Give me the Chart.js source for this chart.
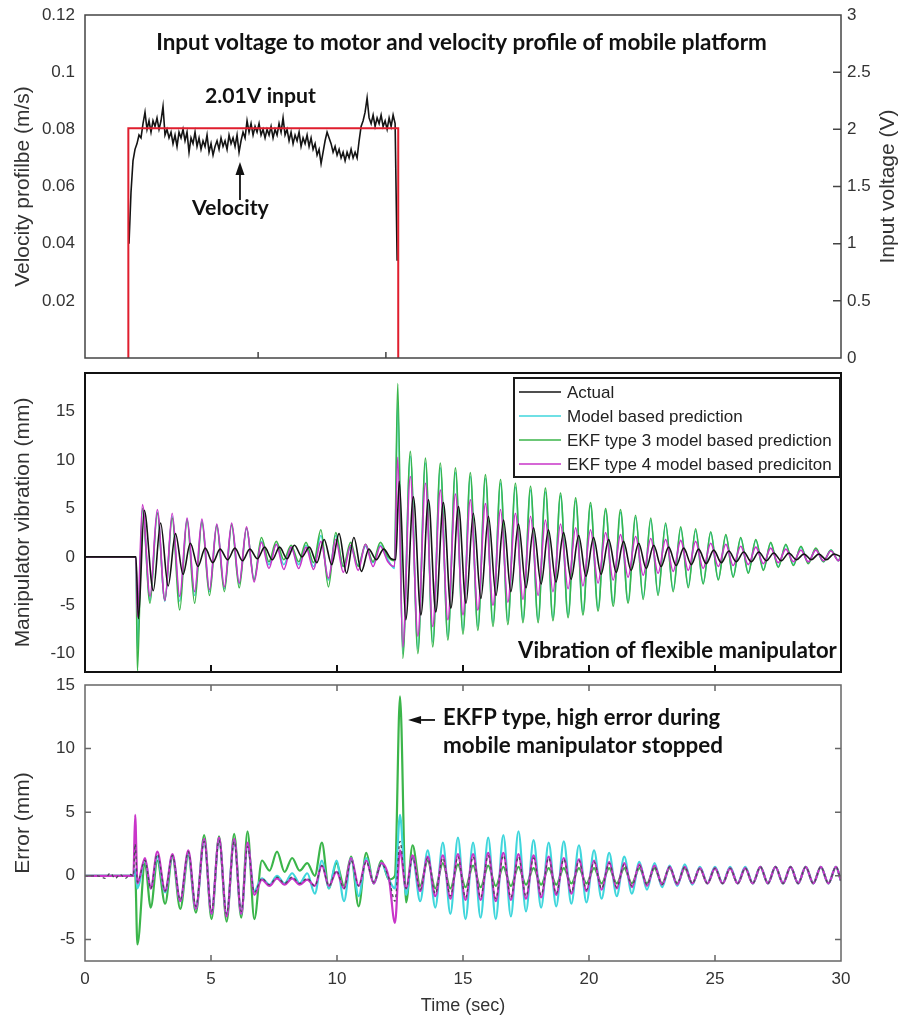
<!DOCTYPE html>
<html><head><meta charset="utf-8">
<script src="https://cdn.jsdelivr.net/npm/chart.js@4.4.1/dist/chart.umd.min.js"></script>
<style>
html,body{margin:0;padding:0;background:#fff;}
#wrap{position:relative;width:900px;height:1019px;overflow:hidden;background:#fff;}
#wrap canvas{position:absolute;left:0;}
</style></head><body>
<div id="wrap">
<canvas id="c1" width="900" height="372" style="top:0px"></canvas>
<canvas id="c2" width="900" height="325" style="top:360px"></canvas>
<canvas id="c3" width="900" height="345" style="top:674px"></canvas>
</div>
<script>
// ================= DATA =================
const timeTicks = [0, 5, 10, 15, 20, 25, 30];
const timeTickLabels = ['0', '5', '10', '15', '20', '25', '30'];
const velTicks = [0.02, 0.04, 0.06, 0.08, 0.10, 0.12];
const velTickLabels = ['0.02', '0.04', '0.06', '0.08', '0.1', '0.12'];
const voltTicks = [0, 0.5, 1, 1.5, 2, 2.5, 3];
const voltTickLabels = ['0', '0.5', '1', '1.5', '2', '2.5', '3'];
const vibTicks = [-10, -5, 0, 5, 10, 15];
const vibTickLabels = ['-10', '-5', '0', '5', '10', '15'];
const errTicks = [-5, 0, 5, 10, 15];
const errTickLabels = ['-5', '0', '5', '10', '15'];
const topPanelXTicks = [6.87, 11.94];
const innerXTicks = [5, 10, 15, 20, 25];
const innerVoltTicks = [0.5, 1, 1.5, 2, 2.5];
const innerErrTicks = [-5, 0, 5, 10];

const seriesNames = ['Actual', 'Model based prediction', 'EKF type 3 model based prediction', 'EKF type 4 model based prediciton'];

// input voltage step (V)
const voltTime  = [1.72, 1.72, 12.43, 12.43];
const voltValue = [0, 2.01, 2.01, 0];

// velocity (m/s), uniformly sampled from velStart every velStep seconds
const velStart = 1.746, velStep = 0.0794;
const velValue = [
 0.040,0.058,0.069,0.073,0.075,0.078,0.077,0.082,0.086,0.080,
 0.083,0.079,0.083,0.081,0.084,0.080,0.083,0.088,0.078,0.080,
 0.077,0.079,0.075,0.078,0.074,0.079,0.077,0.080,0.076,0.079,
 0.072,0.077,0.075,0.079,0.074,0.077,0.073,0.076,0.074,0.078,
 0.072,0.075,0.071,0.074,0.076,0.073,0.077,0.074,0.076,0.073,
 0.078,0.075,0.077,0.074,0.078,0.072,0.076,0.079,0.077,0.083,
 0.079,0.082,0.078,0.081,0.079,0.082,0.078,0.080,0.077,0.080,
 0.078,0.081,0.077,0.080,0.078,0.082,0.079,0.084,0.078,0.080,
 0.076,0.079,0.075,0.078,0.076,0.079,0.074,0.077,0.075,0.078,
 0.074,0.077,0.073,0.075,0.071,0.073,0.068,0.072,0.076,0.079,
 0.077,0.075,0.072,0.074,0.071,0.073,0.070,0.072,0.069,0.072,
 0.070,0.073,0.070,0.072,0.070,0.076,0.081,0.083,0.086,0.091,
 0.084,0.082,0.085,0.081,0.084,0.082,0.085,0.081,0.083,0.080,
 0.084,0.081,0.085,0.082,0.034];

// manipulator vibration (mm): extrema of the three predictions
const predTime = [
 0, 1.95, 2.02,
 2.08, 2.28, 2.58, 2.87, 3.17, 3.46, 3.76, 4.05, 4.35, 4.64,
 4.94, 5.23, 5.53, 5.82, 6.12, 6.41, 6.71, 7.00, 7.30, 7.59,
 7.89, 8.18, 8.48, 8.77, 9.07, 9.36, 9.66, 9.95, 10.25, 10.54,
 10.84, 11.13, 11.43, 11.72, 12.02,
 12.28, 12.41, 12.61,
 12.91, 13.21, 13.51, 13.80, 14.10, 14.40, 14.70, 15.00, 15.29, 15.59,
 15.89, 16.19, 16.49, 16.78, 17.08, 17.38, 17.68, 17.98, 18.27, 18.57,
 18.87, 19.17, 19.47, 19.76, 20.06, 20.36, 20.66, 20.96, 21.25, 21.55,
 21.85, 22.15, 22.45, 22.74, 23.04, 23.34, 23.64, 23.94, 24.23, 24.53,
 24.83, 25.13, 25.43, 25.72, 26.02, 26.32, 26.62, 26.92, 27.21, 27.51,
 27.81, 28.11, 28.41, 28.70, 29.00, 29.30, 29.60, 29.90,
 30.0];
const predModel = [
 0, 0, 0,
 -9.5, 5.0, -4.5, 4.6, -4.6, 4.2, -4.6, 3.9, -4.0, 3.7,
 -3.6, 3.3, -3.3, 3.3, -2.8, 2.9, -2.3, 1.6, -0.8, 1.3,
 -0.8, 1.0, -0.8, 1.2, -1.0, 2.2, -2.4, 2.2, -1.0, 1.0,
 -0.9, 1.1, -0.6, 1.2, -0.3,
 -1.2, 16.0, -10.0,
 10.4, -9.5, 9.7, -8.8, 9.2, -8.2, 8.7, -7.6, 8.3, -7.2,
 8.1, -6.8, 7.6, -6.6, 7.2, -6.5, 6.9, -6.5, 6.7, -6.3,
 6.3, -6.0, 5.8, -5.7, 5.3, -5.3, 4.8, -4.8, 4.6, -4.6,
 4.1, -4.2, 3.8, -3.8, 3.3, -3.4, 2.9, -3.0, 2.7, -2.7,
 2.5, -2.3, 2.2, -2.0, 1.9, -1.6, 1.7, -1.3, 1.4, -1.0,
 1.2, -0.8, 1.0, -0.6, 0.8, -0.5, 0.7, -0.4,
 0.2];
const predEKF3 = [
 0, 0, 0,
 -11.8, 5.0, -4.8, 4.5, -4.5, 4.0, -5.5, 3.8, -4.8, 3.6,
 -4.0, 3.2, -3.6, 3.3, -3.2, 3.0, -2.4, 2.0, -0.5, 1.6,
 -0.3, 1.2, -0.5, 1.5, -0.6, 2.8, -3.1, 2.5, -1.0, 1.5,
 -1.0, 1.3, -0.5, 1.5, 0.0,
 -0.4, 17.9, -10.5,
 10.9, -10.0, 10.2, -9.3, 9.7, -8.6, 9.2, -8.0, 8.7, -7.6,
 8.5, -7.2, 8.0, -7.0, 7.6, -6.8, 7.3, -6.8, 7.1, -6.6,
 6.6, -6.3, 6.1, -6.0, 5.6, -5.6, 5.0, -5.1, 4.9, -4.8,
 4.3, -4.4, 4.0, -4.0, 3.5, -3.6, 3.1, -3.2, 2.9, -2.8,
 2.6, -2.4, 2.3, -2.1, 2.0, -1.7, 1.8, -1.4, 1.5, -1.1,
 1.3, -0.9, 1.1, -0.7, 0.9, -0.5, 0.7, -0.4,
 0.2];
const predEKF4 = [
 0, 0, 0,
 -6.2, 5.4, -4.1, 4.9, -4.5, 4.5, -4.1, 4.0, -3.6, 3.9,
 -3.4, 3.4, -3.1, 3.5, -2.7, 3.1, -2.6, 1.5, -1.2, 1.3,
 -1.3, 1.0, -1.2, 1.0, -1.3, 1.6, -2.2, 1.8, -1.6, 1.2,
 -1.4, 1.3, -1.0, 1.1, -0.5,
 -1.0, 10.3, -9.3,
 8.3, -8.2, 7.6, -7.2, 6.9, -6.5, 6.5, -6.0, 5.9, -5.5,
 5.5, -5.0, 4.9, -4.7, 4.5, -4.4, 4.2, -4.0, 3.8, -3.6,
 3.4, -3.3, 3.0, -3.0, 2.8, -2.7, 2.5, -2.4, 2.3, -2.1,
 2.1, -1.9, 1.9, -1.7, 1.8, -1.5, 1.7, -1.4, 1.6, -1.2,
 1.4, -1.0, 1.3, -0.9, 1.1, -0.8, 1.0, -0.7, 0.9, -0.6,
 0.8, -0.5, 0.7, -0.5, 0.7, -0.4, 0.6, -0.4,
 0.1];

// actual vibration (mm): its own extrema times
const actualTime = [
 0, 1.95, 2.02,
 2.12, 2.35,
 2.71, 3.00, 3.30, 3.59, 3.89, 4.18, 4.48, 4.77, 5.07, 5.36,
 5.66, 5.95, 6.25, 6.54, 6.84, 7.13, 7.43, 7.72, 8.02, 8.31,
 8.61, 8.90, 9.20, 9.49, 9.79, 10.08, 10.38, 10.67, 10.97, 11.26,
 11.56, 11.85, 12.15,
 12.33, 12.47, 12.73,
 13.03, 13.33, 13.63, 13.92, 14.22, 14.52, 14.82, 15.12, 15.41, 15.71,
 16.01, 16.31, 16.61, 16.90, 17.20, 17.50, 17.80, 18.10, 18.39, 18.69,
 18.99, 19.29, 19.59, 19.88, 20.18, 20.48, 20.78, 21.08, 21.37, 21.67,
 21.97, 22.27, 22.57, 22.86, 23.16, 23.46, 23.76, 24.06, 24.35, 24.65,
 24.95, 25.25, 25.55, 25.84, 26.14, 26.44, 26.74, 27.04, 27.33, 27.63,
 27.93, 28.23, 28.53, 28.82, 29.12, 29.42, 29.72,
 30.0];
const actualVib = [
 0, 0, 0,
 -6.4, 4.8,
 -3.5, 3.5, -3.0, 2.4, -1.8, 1.4, -1.0, 0.9, -0.6, 0.8,
 -0.3, 0.9, -0.4, 0.8, -0.2, 1.0, -0.3, 1.0, -0.2, 1.2,
 0.0, 1.0, -0.6, 1.8, -0.8, 2.4, -1.7, 2.0, -1.5, 0.8,
 -0.3, 0.8, -0.2,
 -0.3, 7.8, -6.5,
 6.2, -6.0, 5.9, -5.7, 5.6, -5.3, 5.2, -4.8, 4.5, -4.3,
 4.2, -4.0, 3.8, -3.6, 3.4, -3.2, 3.0, -2.8, 2.8, -2.6,
 2.5, -2.3, 2.2, -2.0, 2.0, -1.8, 1.8, -1.6, 1.6, -1.4,
 1.4, -1.2, 1.2, -1.0, 1.0, -0.9, 0.9, -0.8, 0.8, -0.7,
 0.7, -0.6, 0.6, -0.5, 0.5, -0.5, 0.5, -0.4, 0.4, -0.4,
 0.4, -0.3, 0.3, -0.3, 0.3, -0.3, 0.3,
 0.0];

// prediction error (mm)
const errTime = [
 0, 0.5, 0.8, 1.0, 1.2, 1.4, 1.6, 1.8, 1.92,
 1.99, 2.08,
 2.38, 2.61, 2.87, 3.18, 3.47, 3.78, 4.10, 4.40, 4.73, 5.02, 5.32, 5.62, 5.92, 6.20, 6.45, 6.72,
 7.02, 7.32, 7.62, 7.92, 8.22, 8.52, 8.82, 9.12, 9.40, 9.68, 9.98, 10.28, 10.56, 10.86, 11.16, 11.46, 11.76, 12.06,
 12.30, 12.50, 12.74,
 13.0, 13.3, 13.6, 13.9, 14.2, 14.5, 14.8, 15.1, 15.4, 15.7,
 16.0, 16.3, 16.6, 16.9, 17.2, 17.5, 17.8, 18.1, 18.4, 18.7,
 19.0, 19.3, 19.6, 19.9, 20.2, 20.5, 20.8, 21.1, 21.4, 21.7,
 22.0, 22.3, 22.6, 22.9, 23.2, 23.5, 23.8, 24.1, 24.4, 24.7,
 25.0, 25.3, 25.6, 25.9, 26.2, 26.5, 26.8, 27.1, 27.4, 27.7,
 28.0, 28.3, 28.6, 28.9, 29.2, 29.5, 29.8,
 30.0];
const errModel = [
 0, 0, 0, 0, 0, 0, 0, 0, 0,
 0.5, -1.0,
 1.3, -1.0, 1.5, -1.3, 1.6, -2.0, 1.8, -2.6, 2.8, -3.0, 2.9, -3.1, 2.8, -3.0, 2.4, -1.2,
 -0.2, -0.7, 0.0, -0.6, 0.2, -0.6, 0.2, -1.4, 1.2, -1.0, 1.2, -2.0, 1.4, -1.6, 1.4, -0.6, 1.0, -0.3,
 -1.0, 4.8, -1.5,
 1.5, -2.0, 2.0, -2.5, 2.6, -3.0, 3.0, -3.4, 2.6, -3.3,
 3.0, -3.4, 3.2, -3.2, 3.5, -2.8, 2.8, -2.5, 2.6, -2.4,
 2.7, -2.2, 2.4, -2.1, 2.0, -1.8, 1.8, -1.6, 1.5, -1.4,
 1.1, -1.1, 1.0, -0.9, 0.8, -0.8, 0.9, -0.7, 0.7, -0.6,
 0.7, -0.6, 0.7, -0.6, 0.7, -0.6, 0.7, -0.6, 0.7, -0.6,
 0.7, -0.6, 0.7, -0.6, 0.7, -0.6, 0.7,
 -0.4];
const errEKF3 = [
 0, 0, 0, 0, 0, 0, 0, 0, 0,
 0.3, -5.4,
 1.0, -2.5, 1.2, -2.2, 1.5, -2.6, 1.6, -2.9, 3.2, -3.4, 3.1, -3.6, 3.3, -3.3, 3.5, -3.4,
 1.2, 0.4, 1.9, 0.3, 1.4, 0.4, 1.0, 0.0, 2.6, -1.0, 1.0, -0.8, 1.5, -2.4, 1.8, -0.6, 1.2, -0.3,
 0.0, 14.1, -2.1,
 2.4, -0.8, 1.2, -1.0, 1.0, -1.0, 0.9, -0.9, 0.8, -0.9,
 0.8, -0.8, 0.7, -0.8, 0.7, -0.7, 0.6, -0.7, 0.6, -0.7,
 0.6, -0.6, 0.6, -0.6, 0.6, -0.6, 0.6, -0.6, 0.6, -0.6,
 0.6, -0.6, 0.6, -0.6, 0.6, -0.6, 0.6, -0.6, 0.6, -0.6,
 0.6, -0.6, 0.6, -0.6, 0.6, -0.6, 0.7, -0.6, 0.7, -0.6,
 0.7, -0.6, 0.7, -0.6, 0.7, -0.6, 0.7,
 -0.4];
const errEKF4 = [
 0, 0, 0, 0, 0, 0, 0, 0, 0,
 4.8, -0.6,
 1.4, -1.0, 1.9, -1.2, 1.7, -2.0, 2.0, -2.6, 2.9, -3.0, 3.0, -3.2, 2.9, -3.0, 2.6, -1.5,
 -0.3, -0.8, -0.2, -0.7, -0.2, -0.7, -0.3, -0.8, 0.8, -0.8, 0.3, -1.0, 1.4, -0.8, 1.2, -0.6, 1.0, -0.2,
 -3.7, 2.0, -1.0,
 1.6, -1.2, 1.5, -1.6, 1.6, -1.8, 1.7, -1.9, 1.7, -1.9,
 1.8, -2.0, 1.8, -1.9, 1.7, -1.8, 1.6, -1.7, 1.5, -1.5,
 1.4, -1.4, 1.3, -1.2, 1.2, -1.1, 1.1, -1.0, 1.0, -0.9,
 0.9, -0.8, 0.8, -0.7, 0.7, -0.7, 0.7, -0.6, 0.6, -0.6,
 0.6, -0.6, 0.6, -0.6, 0.6, -0.6, 0.7, -0.6, 0.7, -0.6,
 0.7, -0.6, 0.7, -0.6, 0.7, -0.6, 0.7,
 -0.4];
const errDark = [
 0, 0, -0.2, 0.2, -0.2, 0.1, -0.2, 0.1, 0,
 2.5, -0.5,
 1.2, -1.0, 1.7, -1.2, 1.6, -1.9, 1.9, -2.4, 2.7, -2.8, 2.8, -3.0, 2.7, -2.8, 2.3, -1.3,
 -0.2, -0.7, -0.1, -0.6, -0.1, -0.6, -0.2, -0.8, 0.8, -0.8, 0.4, -1.0, 1.2, -0.8, 1.1, -0.5, 0.9, -0.2,
 -2.0, 2.7, -1.0,
 1.4, -1.1, 1.4, -1.4, 1.4, -1.6, 1.5, -1.7, 1.5, -1.7,
 1.6, -1.8, 1.6, -1.7, 1.5, -1.6, 1.4, -1.5, 1.4, -1.4,
 1.3, -1.3, 1.2, -1.1, 1.1, -1.0, 1.0, -0.9, 0.9, -0.8,
 0.8, -0.7, 0.7, -0.7, 0.7, -0.6, 0.7, -0.6, 0.6, -0.6,
 0.6, -0.6, 0.6, -0.6, 0.6, -0.6, 0.7, -0.6, 0.7, -0.6,
 0.7, -0.6, 0.7, -0.6, 0.7, -0.6, 0.7,
 -0.4];

// ================= HELPERS =================
function pts(t, v, name) {
  if (t.length !== v.length) throw new Error('length mismatch ' + name + ': ' + t.length + ' vs ' + v.length);
  return t.map((x, i) => ({x: x, y: v[i]}));
}
const velTime = velValue.map((_, i) => +(velStart + i * velStep).toFixed(4));

const FONT = "'Liberation Sans', Arial, sans-serif";
const BOLD = "Lato, 'Open Sans', sans-serif";
const TXT = '#333333';
const C_BLACK = '#141414', C_CYAN = '#3fd6dc', C_GREEN = '#3bb54a', C_MAG = '#c935c9', C_RED = '#e01e2e', C_DARK = '#4a4a58';

function arrow(ctx, x1, y1, x2, y2, headLen, headW, lw) {
  const ang = Math.atan2(y2 - y1, x2 - x1);
  const bx = x2 - headLen * Math.cos(ang), by = y2 - headLen * Math.sin(ang);
  ctx.lineWidth = lw;
  ctx.beginPath(); ctx.moveTo(x1, y1); ctx.lineTo(bx, by); ctx.stroke();
  ctx.beginPath(); ctx.moveTo(x2, y2);
  ctx.lineTo(bx + headW / 2 * Math.sin(ang), by - headW / 2 * Math.cos(ang));
  ctx.lineTo(bx - headW / 2 * Math.sin(ang), by + headW / 2 * Math.cos(ang));
  ctx.closePath(); ctx.fill();
}

const framePlugin = {
  id: 'frame',
  afterDatasetsDraw(chart, args, o) {
    const {ctx, chartArea: a} = chart;
    ctx.save();
    ctx.strokeStyle = o.color; ctx.lineWidth = o.width;
    ctx.beginPath();
    const seg = (x1, y1, x2, y2) => { ctx.moveTo(x1, y1); ctx.lineTo(x2, y2); };
    const xs = chart.scales.x;
    (o.xTicks || []).forEach(v => {
      const p = xs.getPixelForValue(v);
      if (o.xSides.includes('b')) seg(p, a.bottom, p, a.bottom - o.len);
      if (o.xSides.includes('t')) seg(p, a.top, p, a.top + o.len);
    });
    const ys = chart.scales[o.yScale || 'y'];
    (o.yTicks || []).forEach(v => {
      const p = ys.getPixelForValue(v);
      if (o.ySides.includes('l')) seg(a.left, p, a.left + o.yLen, p);
      if (o.ySides.includes('r')) seg(a.right, p, a.right - o.yLen, p);
    });
    ctx.stroke();
    ctx.strokeRect(a.left, a.top, a.right - a.left, a.bottom - a.top);
    ctx.restore();
  }
};

const annoPlugin = {
  id: 'anno',
  afterDraw(chart, args, o) {
    const {ctx, chartArea: a} = chart;
    const xs = chart.scales.x, ys = chart.scales.y;
    ctx.save();
    (o.texts || []).forEach(t => {
      ctx.font = 'bold 20px ' + BOLD;
      const w = ctx.measureText(t.text).width;
      const size = 20 * t.w / w;
      ctx.font = 'bold ' + size.toFixed(2) + 'px ' + BOLD;
      ctx.fillStyle = '#111';
      ctx.textAlign = t.align || 'center';
      ctx.textBaseline = 'alphabetic';
      ctx.fillText(t.text, xs.getPixelForValue(t.x), ys.getPixelForValue(t.y));
    });
    (o.arrows || []).forEach(r => {
      ctx.strokeStyle = '#111'; ctx.fillStyle = '#111';
      arrow(ctx, xs.getPixelForValue(r.x1), ys.getPixelForValue(r.y1),
                 xs.getPixelForValue(r.x2), ys.getPixelForValue(r.y2), r.head, r.headW, r.lw);
    });
    if (o.rightTitle) {
      const rt = o.rightTitle;
      ctx.translate(rt.x, (a.top + a.bottom) / 2);
      ctx.rotate(-Math.PI / 2);
      ctx.font = rt.size + 'px ' + FONT;
      ctx.fillStyle = TXT; ctx.textAlign = 'center'; ctx.textBaseline = 'middle';
      ctx.fillText(rt.text, 0, 0);
      ctx.setTransform(1, 0, 0, 1, 0, 0);
    }
    if (o.legend) {
      const L = o.legend;
      const bx = a.right - L.right - L.w, by = a.top + L.top;
      ctx.fillStyle = '#fff';
      ctx.fillRect(bx, by, L.w, L.h);
      ctx.strokeStyle = '#1a1a1a'; ctx.lineWidth = 2;
      ctx.strokeRect(bx, by, L.w, L.h);
      ctx.font = L.size + 'px ' + FONT;
      ctx.textAlign = 'left'; ctx.textBaseline = 'middle';
      L.items.forEach((it, i) => {
        const yy = by + L.first + i * L.rowH;
        ctx.strokeStyle = it.color; ctx.lineWidth = 1.6;
        ctx.beginPath(); ctx.moveTo(bx + L.x0, yy); ctx.lineTo(bx + L.x1, yy); ctx.stroke();
        ctx.fillStyle = '#222';
        ctx.fillText(it.label, bx + L.tx, yy + 1);
      });
    }
    ctx.restore();
  }
};

const hidden = {display: false, drawTicks: false};
const noBorder = {display: false};
function fixedTicks(vals) { return s => { s.ticks = vals.map(v => ({value: v})); }; }
function yAxis(min, max, vals, labels, title, width, pos, tickPad) {
  return {
    type: 'linear', position: pos, min: min, max: max,
    afterBuildTicks: fixedTicks(vals),
    afterFit: s => { s.width = width; s.paddingTop = 0; s.paddingBottom = 0; },
    grid: hidden, border: noBorder,
    ticks: {callback: (v, i) => labels[i], font: {family: FONT, size: 17}, color: TXT, padding: tickPad, autoSkip: false},
    title: title ? {display: true, text: title, font: {family: FONT, size: 21}, color: TXT, padding: {top: 11, bottom: 0}} : {display: false}
  };
}
function xHidden(h) {
  return {type: 'linear', min: 0, max: 30,
    afterFit: s => { s.height = h; s.paddingLeft = 0; s.paddingRight = 0; },
    ticks: {display: false}, grid: hidden, border: noBorder};
}
const common = {
  responsive: false, animation: false, devicePixelRatio: 1,
  elements: {point: {radius: 0}},
  events: []
};
function line(data, color, width, order, extra) {
  return Object.assign({data: data, borderColor: color, borderWidth: width, order: order,
    fill: false, pointRadius: 0, cubicInterpolationMode: 'monotone'}, extra || {});
}

// ================= CHART 1 : velocity & voltage =================
new Chart(document.getElementById('c1'), {
  type: 'line',
  data: {datasets: [
    line(pts(voltTime, voltValue, 'volt'), C_RED, 2, 1, {yAxisID: 'y2', cubicInterpolationMode: 'default', tension: 0}),
    line(pts(velTime, velValue, 'vel'), C_BLACK, 1.6, 2, {yAxisID: 'y', cubicInterpolationMode: 'default', tension: 0})
  ]},
  options: Object.assign({}, common, {
    layout: {padding: {top: 15, right: 0, left: 0, bottom: 0}},
    scales: {
      x: xHidden(14),
      y: yAxis(0, 0.12, velTicks, velTickLabels, 'Velocity profilbe (m/s)', 85, 'left', 10),
      y2: yAxis(0, 3, voltTicks, voltTickLabels, null, 59, 'right', 6)
    },
    plugins: {
      legend: {display: false}, tooltip: {enabled: false},
      frame: {color: '#444', width: 1.5, xTicks: topPanelXTicks, xSides: 'b', len: 6,
              yScale: 'y2', yTicks: innerVoltTicks, ySides: 'r', yLen: 8},
      anno: {
        texts: [
          {text: 'Input voltage to motor and velocity profile of mobile platform', x: 14.94, y: 0.10775, w: 611},
          {text: '2.01V input', x: 6.96, y: 0.0892, w: 111},
          {text: 'Velocity', x: 5.77, y: 0.0500, w: 77}
        ],
        arrows: [{x1: 6.15, y1: 0.0553, x2: 6.15, y2: 0.0686, head: 13, headW: 9, lw: 1.8}],
        rightTitle: {text: 'Input voltage (V)', x: 888, size: 21}
      }
    }
  }),
  plugins: [framePlugin, annoPlugin]
});

// ================= CHART 2 : vibration =================
new Chart(document.getElementById('c2'), {
  type: 'line',
  data: {datasets: [
    line(pts(actualTime, actualVib, 'actual'), C_BLACK, 1.6, 1),
    line(pts(predTime, predModel, 'model'), C_CYAN, 1.6, 4),
    line(pts(predTime, predEKF3, 'ekf3'), C_GREEN, 1.6, 3),
    line(pts(predTime, predEKF4, 'ekf4'), C_MAG, 1.6, 2)
  ]},
  options: Object.assign({}, common, {
    layout: {padding: {top: 13, right: 59, left: 0, bottom: 0}},
    scales: {
      x: xHidden(13),
      y: yAxis(-11.9, 19, vibTicks, vibTickLabels, 'Manipulator vibration (mm)', 85, 'left', 10)
    },
    plugins: {
      legend: {display: false}, tooltip: {enabled: false},
      frame: {color: '#111', width: 2, xTicks: innerXTicks, xSides: 'b', len: 7, yTicks: [], ySides: '', yLen: 0},
      anno: {
        texts: [{text: 'Vibration of flexible manipulator', x: 23.51, y: -10.42, w: 319}],
        legend: {right: 1, top: 5, w: 326, h: 99, first: 14, rowH: 24, x0: 5, x1: 47, tx: 53, size: 17,
          items: [
            {label: seriesNames[0], color: C_BLACK},
            {label: seriesNames[1], color: C_CYAN},
            {label: seriesNames[2], color: C_GREEN},
            {label: seriesNames[3], color: C_MAG}
          ]}
      }
    }
  }),
  plugins: [framePlugin, annoPlugin]
});

// ================= CHART 3 : error =================
new Chart(document.getElementById('c3'), {
  type: 'line',
  data: {datasets: [
    line(pts(errTime, errModel, 'eModel'), C_CYAN, 2.2, 3),
    line(pts(errTime, errEKF3, 'eEkf3'), C_GREEN, 2.2, 4),
    line(pts(errTime, errEKF4, 'eEkf4'), C_MAG, 2.2, 2),
    line(pts(errTime, errDark, 'eDark'), C_DARK, 1.3, 1, {borderDash: [3, 3]})
  ]},
  options: Object.assign({}, common, {
    layout: {padding: {top: 11, right: 59, left: 0, bottom: 0}},
    scales: {
      x: {type: 'linear', min: 0, max: 30,
        afterBuildTicks: fixedTicks(timeTicks),
        afterFit: s => { s.height = 58; },
        grid: hidden, border: noBorder,
        ticks: {callback: (v, i) => timeTickLabels[i], font: {family: FONT, size: 17}, color: TXT, padding: 8, maxRotation: 0, autoSkip: false},
        title: {display: true, text: 'Time (sec)', font: {family: FONT, size: 18}, color: TXT, padding: {top: 0, bottom: 2}}
      },
      y: yAxis(-6.7, 15, errTicks, errTickLabels, 'Error (mm)', 85, 'left', 10)
    },
    plugins: {
      legend: {display: false}, tooltip: {enabled: false},
      frame: {color: '#666', width: 1.5, xTicks: innerXTicks, xSides: 'tb', len: 6, yTicks: innerErrTicks, ySides: 'lr', yLen: 6},
      anno: {
        texts: [
          {text: 'EKFP type, high error during', x: 14.21, y: 11.86, w: 277, align: 'left'},
          {text: 'mobile manipulator stopped', x: 14.21, y: 9.63, w: 280, align: 'left'}
        ],
        arrows: [{x1: 13.89, y1: 12.25, x2: 12.82, y2: 12.25, head: 13, headW: 8, lw: 1.8}]
      }
    }
  }),
  plugins: [framePlugin, annoPlugin]
});
</script>
</body></html>
